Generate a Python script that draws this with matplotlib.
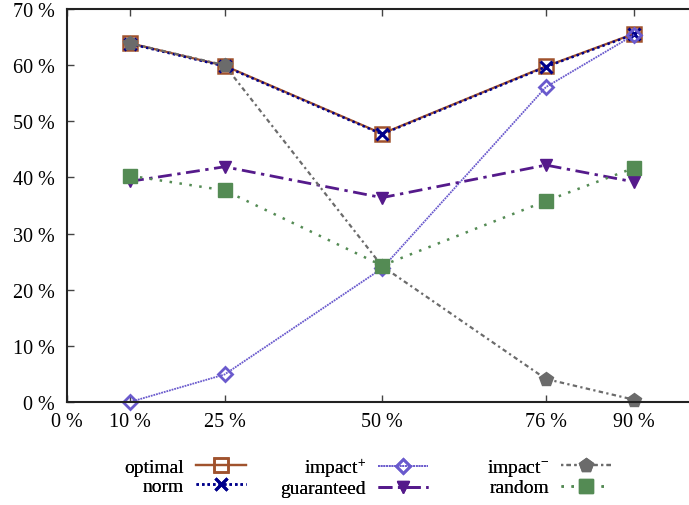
import matplotlib
matplotlib.use("Agg")
import matplotlib.pyplot as plt

plt.rcParams['font.family'] = ['Liberation Serif', 'DejaVu Serif']
plt.rcParams['mathtext.fontset'] = 'custom'
plt.rcParams['mathtext.rm'] = 'Liberation Serif'
plt.rcParams['mathtext.default'] = 'regular'

# x positions (percent) and tick labels
x = [10, 25, 50, 76, 90]
xticks = [0, 10, 25, 50, 76, 90]
xlabels = ["0 %", "10 %", "25 %", "50 %", "76 %", "90 %"]
yticks = [0, 10, 20, 30, 40, 50, 60, 70]
ylabels = ["0 %", "10 %", "20 %", "30 %", "40 %", "50 %", "60 %", "70 %"]

# series values (percent)
optimal = [63.9, 59.9, 47.8, 59.8, 65.6]
norm = [63.8, 59.8, 47.7, 59.7, 65.5]
impact_plus = [0.0, 4.9, 23.8, 56.1, 65.4]
guaranteed = [39.3, 41.9, 36.4, 42.2, 39.2]
impact_minus = [63.9, 60.0, 24.2, 4.1, 0.4]
random_sel = [40.3, 37.7, 24.3, 35.8, 41.7]

fig = plt.figure(figsize=(6.89, 5.06), dpi=100)
ax = fig.add_axes([67 / 689, 1 - 403 / 506, 1 - 67 / 689, 393 / 506])

l1, = ax.plot(x, optimal, color='#a0522d', lw=1.6, ls='-', marker='s', ms=10,
              mfc='none', mew=1.8, label='optimal', clip_on=False)
l2, = ax.plot(x, norm, color='#00008b', lw=1.8, ls=(0, (1, 1.2)), marker='x', ms=9,
              mew=2.2, label='norm', clip_on=False)
l3, = ax.plot(x, impact_plus, color='#6a5acd', lw=1.3, ls=(0, (1, 0.5)), marker='D', ms=7.5,
              mfc='none', mew=2.0, label='impact$^{+}$', clip_on=False)
l4, = ax.plot(x, guaranteed, color='#551a8b', lw=2.0, ls=(0, (5, 2, 1.2, 2)), marker='v', ms=9,
              label='guaranteed', clip_on=False)
l5, = ax.plot(x, impact_minus, color='#6b6b6b', lw=1.6, ls=(0, (1, 1.5, 2, 1.5)), marker='p', ms=10,
              label='impact$^{-}$', clip_on=False)
l6, = ax.plot(x, random_sel, color='#548b54', lw=1.8, ls=(0, (1, 3)), marker='s', ms=10,
              label='random', clip_on=False)

ax.set_xlim(0, 98.7)
ax.set_ylim(0, 70)
ax.set_xticks(xticks)
ax.set_xticklabels(xlabels)
ax.set_yticks(yticks)
ax.set_yticklabels(ylabels)
ax.tick_params(axis='x', direction='in', top=True, length=5, width=1, pad=7,
               labelsize=14.5, color='#444444')
ax.tick_params(axis='y', direction='in', length=5, width=1, pad=9,
               labelsize=14.5, color='#444444')
ax.spines['right'].set_visible(False)
for s in ['left', 'bottom', 'top']:
    ax.spines[s].set_linewidth(1.5)
    ax.spines[s].set_color('#222222')

# gnuplot-like key: three equal-width columns, text right-aligned before sample
groups = [[l1, l2], [l3, l4], [l5, l6]]
col_right = [256 / 689, 438 / 689, 621 / 689]
for handles, xr in zip(groups, col_right):
    leg = fig.legend(handles=handles, loc='center right', bbox_to_anchor=(xr, 0.056),
                     frameon=False, markerfirst=False, fontsize=14,
                     handlelength=2.6, handletextpad=0.6, labelspacing=0.05,
                     borderpad=0)
    fig.add_artist(leg)

fig.savefig('out.png', dpi=100)
